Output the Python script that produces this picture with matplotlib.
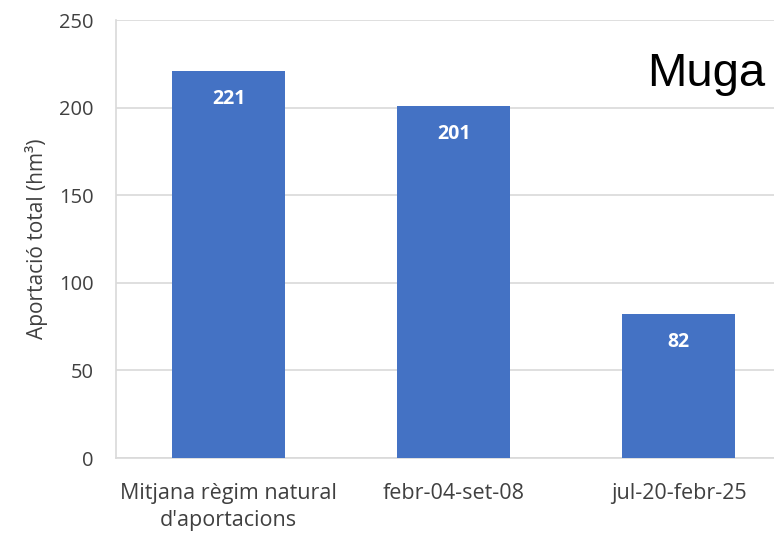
import matplotlib.pyplot as plt

categories = ["Mitjana règim natural\nd'aportacions", "febr-04-set-08", "jul-20-febr-25"]
values = [221, 201, 82]
yticks = [0, 50, 100, 150, 200, 250]

plt.rcParams['font.family'] = ['Open Sans', 'DejaVu Sans']

fig = plt.figure(figsize=(7.74, 5.34), dpi=100)
ax = fig.add_axes([0.150, 0.1423, 0.872, 0.8202])

x = range(len(categories))
bars = ax.bar(x, values, width=0.5, color="#4472C4", zorder=3)
for b, v in zip(bars, values):
    ax.text(b.get_x() + b.get_width() / 2, v - 16, str(v), ha="center", va="center",
            color="white", fontsize=14, fontweight="bold", zorder=4)

ax.set_xlim(-0.5, len(categories) - 0.5)
ax.set_ylim(0, 250)
ax.set_yticks(yticks)
ax.yaxis.grid(True, color="#d9d9d9", linewidth=1.2, zorder=0)
ax.set_xticks(list(x))
ax.set_xticklabels(categories, fontsize=15.5, color="#404040", linespacing=1.35)
ax.tick_params(axis="y", labelsize=14.5, labelcolor="#404040", length=0, pad=16)
ax.tick_params(axis="x", length=0, pad=18)
ax.set_ylabel("Aportació total (hm³)", fontsize=15, color="#404040", labelpad=8)

for s in ["top", "right"]:
    ax.spines[s].set_visible(False)
ax.spines["left"].set_color("#d9d9d9")
ax.spines["bottom"].set_color("#d9d9d9")
ax.spines["left"].set_linewidth(1.2)
ax.spines["bottom"].set_linewidth(1.2)

fig.text(0.989, 0.862, "Muga", fontsize=34, family="Liberation Sans", ha="right", va="center")

fig.savefig("out.png", dpi=100)
